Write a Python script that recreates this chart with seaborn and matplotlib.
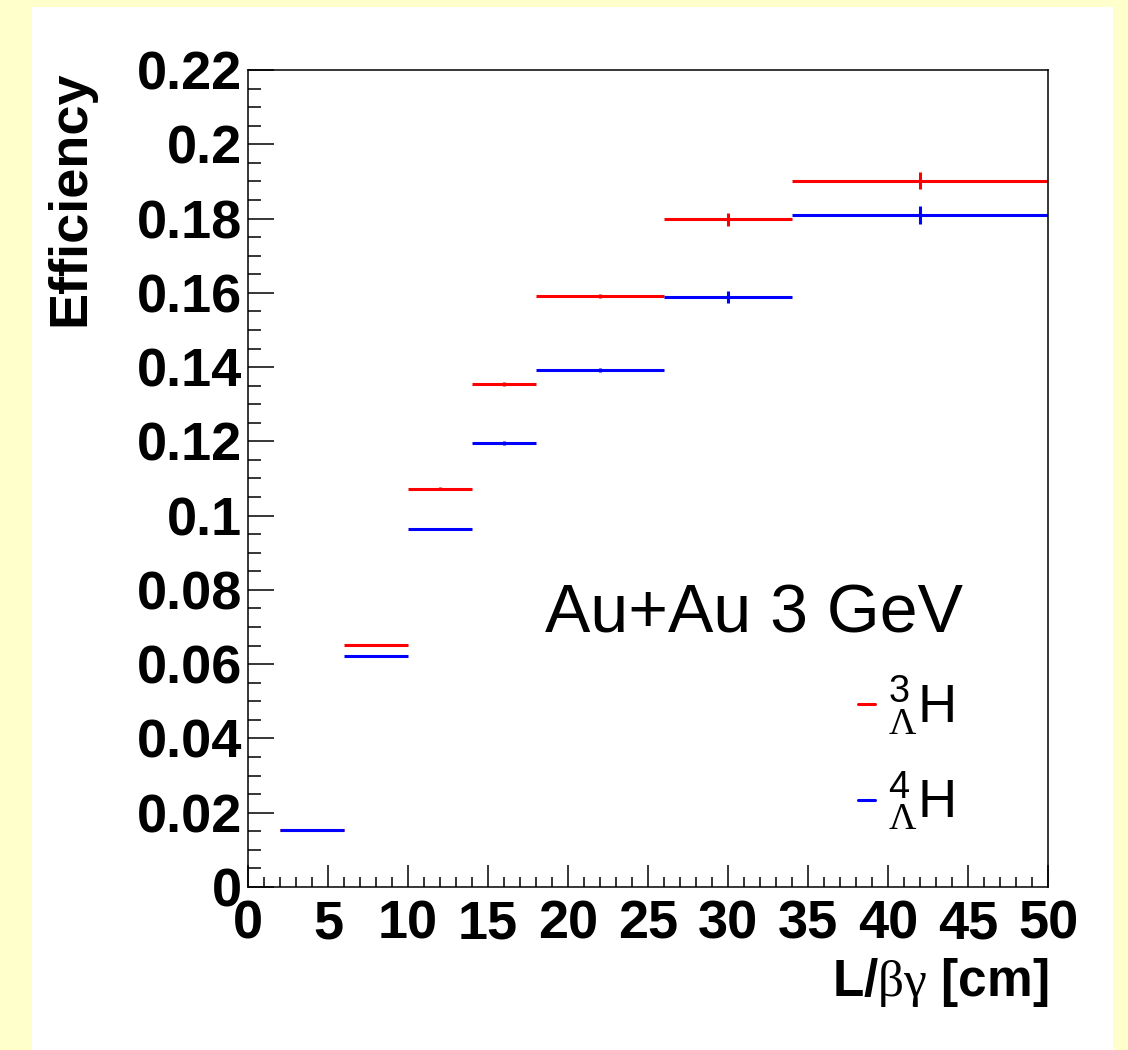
import numpy as np
import pandas as pd
import matplotlib
matplotlib.use("Agg")
import matplotlib.pyplot as plt
import seaborn as sns
from matplotlib.patches import Rectangle
from matplotlib.lines import Line2D
from matplotlib.ticker import MultipleLocator, FixedLocator, FixedFormatter

# ---- data ----
bin_edges = [2, 6, 10, 14, 18, 26, 34, 50]
eff_h3 = [0.0153, 0.0652, 0.1072, 0.1354, 0.1591, 0.1798, 0.1902]
err_h3 = [0.0003, 0.0003, 0.0004, 0.0005, 0.0006, 0.0017, 0.0022]
eff_h4 = [0.0153, 0.0622, 0.0964, 0.1196, 0.1392, 0.1588, 0.1810]
err_h4 = [0.0003, 0.0003, 0.0004, 0.0005, 0.0006, 0.0016, 0.0024]
yticks = [0, 0.02, 0.04, 0.06, 0.08, 0.1, 0.12, 0.14, 0.16, 0.18, 0.2, 0.22]
ytick_labels = ["0", "0.02", "0.04", "0.06", "0.08", "0.1", "0.12", "0.14", "0.16", "0.18", "0.2", "0.22"]
xticks = [0, 5, 10, 15, 20, 25, 30, 35, 40, 45, 50]
xtick_labels = ["0", "5", "10", "15", "20", "25", "30", "35", "40", "45", "50"]
series_labels = [r"${}^{\mathsf{3}}_{\Lambda}$H", r"${}^{\mathsf{4}}_{\Lambda}$H"]
series_colors = ["#ff0000", "#0000ff"]

edges = np.array(bin_edges, dtype=float)
centers = 0.5 * (edges[:-1] + edges[1:])
halfw = 0.5 * (edges[1:] - edges[:-1])
df = pd.DataFrame({
    "x": np.concatenate([centers, centers]),
    "xerr": np.concatenate([halfw, halfw]),
    "eff": eff_h3 + eff_h4,
    "err": err_h3 + err_h4,
    "species": [series_labels[0]] * len(eff_h3) + [series_labels[1]] * len(eff_h4),
})

sns.set_theme(style="white")
plt.rcParams["font.family"] = ["Liberation Sans", "DejaVu Sans"]
plt.rcParams["text.color"] = "black"
plt.rcParams["axes.labelcolor"] = "black"
plt.rcParams["xtick.color"] = "black"
plt.rcParams["ytick.color"] = "black"
plt.rcParams["mathtext.fontset"] = "custom"
plt.rcParams["mathtext.rm"] = "Liberation Serif"
plt.rcParams["mathtext.sf"] = "Liberation Sans"
plt.rcParams["mathtext.bf"] = "Liberation Sans:bold"
plt.rcParams["mathtext.it"] = "Liberation Serif:italic"

W, H = 1128, 1050
fig = plt.figure(figsize=(W / 100, H / 100), dpi=100)
fig.patch.set_facecolor("#ffffcc")
bg = Rectangle((32 / W, 0), (1113 - 32) / W, 1 - 7 / H,
               transform=fig.transFigure, facecolor="white",
               edgecolor="none", zorder=-10)
fig.add_artist(bg)

ax = fig.add_axes([248 / W, 1 - 887 / H, 800 / W, 817 / H])
ax.set_zorder(1)
ax.set_facecolor("white")

for lab, col in zip(series_labels, series_colors):
    sub = df[df["species"] == lab]
    ax.errorbar(sub["x"], sub["eff"], xerr=sub["xerr"], yerr=sub["err"],
                fmt="none", ecolor=col, elinewidth=2.2, capsize=0)

ax.set_xlim(0, 50)
ax.set_ylim(0, 0.22)

ax.xaxis.set_major_locator(FixedLocator(xticks))
ax.xaxis.set_major_formatter(FixedFormatter(xtick_labels))
ax.xaxis.set_minor_locator(MultipleLocator(1))
ax.yaxis.set_major_locator(FixedLocator(yticks))
ax.yaxis.set_major_formatter(FixedFormatter(ytick_labels))
ax.yaxis.set_minor_locator(MultipleLocator(0.005))

ax.tick_params(axis="both", which="both", direction="in", color="black", width=1.1,
               top=False, right=False, bottom=True, left=True)
ax.tick_params(axis="x", which="major", length=15.8, pad=9)
ax.tick_params(axis="x", which="minor", length=7.2)
ax.tick_params(axis="y", which="major", length=18.7, pad=4)
ax.tick_params(axis="y", which="minor", length=9.4)
for t in ax.get_xticklabels() + ax.get_yticklabels():
    t.set_fontsize(39)
    t.set_fontweight("bold")
    t.set_color("black")

for s in ax.spines.values():
    s.set_color("black")
    s.set_linewidth(1.1)
    s.set_visible(True)

ax.set_ylabel("Efficiency", fontsize=39, fontweight="bold", loc="top", color="black")
ax.yaxis.set_label_coords(-0.191, 1.0)
ax.set_xlabel(r"$\mathbf{L/}\mathrm{\beta\gamma}$ $\mathbf{[cm]}$", fontsize=37,
              loc="right", color="black")
ax.xaxis.set_label_coords(1.0, -0.085)

ax.text(0.371, 0.311, "Au+Au 3 GeV", transform=ax.transAxes, fontsize=49,
        ha="left", va="baseline", color="black")

handles = [Line2D([], [], color=c, lw=2.2) for c in series_colors]
leg = ax.legend(handles, series_labels, loc="upper left",
                bbox_to_anchor=(0.763, 0.261), frameon=False, fontsize=39,
                handlelength=0.3, handletextpad=0.25, labelspacing=0.6,
                borderpad=0, borderaxespad=0)
for t in leg.get_texts():
    t.set_color("black")

fig.savefig("out.png", dpi=100, facecolor=fig.get_facecolor())
